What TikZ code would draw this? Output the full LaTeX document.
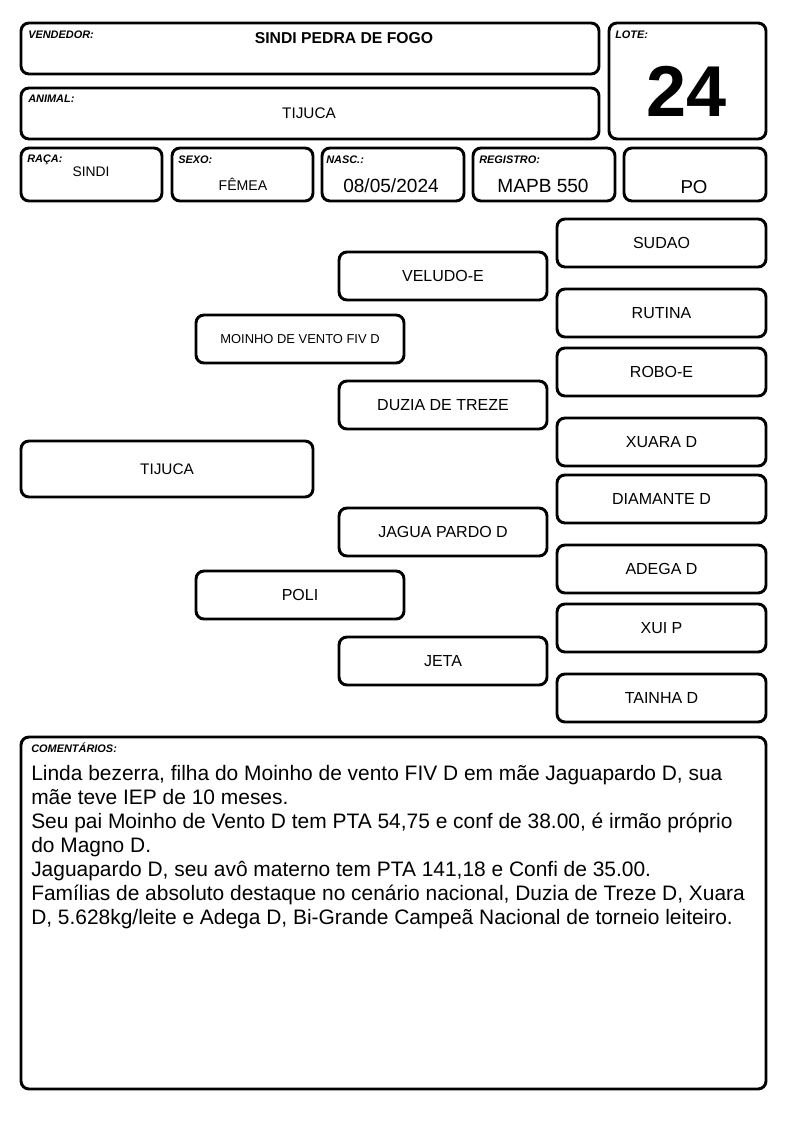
\documentclass[tikz,border=0pt]{standalone}
\usepackage{fontspec}
\setmainfont{Liberation Sans}
\usetikzlibrary{fit}
\begin{document}
\begin{tikzpicture}[x=0.75pt,y=-0.75pt,
 box/.style={draw, line width=2.2pt, rounded corners=6pt, inner sep=0pt},
 lbl/.style={font=\fontsize{8.2}{9}\selectfont\bfseries\itshape, anchor=base west, inner sep=0pt},
 val/.style={inner sep=0pt},
 ped/.style={box, font=\fontsize{12}{14}\selectfont},
]
\useasboundingbox[fill=white] (0,0) rectangle (794,1123);
% header
\node[box, fit={(21,23)(599,74)}] (vend) {};
\node[lbl] (vendl) at (28,39) {VENDEDOR:};
\node[val, font=\fontsize{11.8}{14}\selectfont\bfseries] (vendv) at (344,38) {SINDI PEDRA DE FOGO};

\node[box, fit={(609,23)(766,139)}] (lote) {};
\node[lbl] (lotel) at (615,39) {LOTE:};
\node[val, font=\fontsize{54}{60}\selectfont\bfseries] (lotev) at (687,91) {24};

\node[box, fit={(21,88)(599,139)}] (anim) {};
\node[lbl] (animl) at (28,103) {ANIMAL:};
\node[val, font=\fontsize{11.5}{14}\selectfont] (animv) at (309,113) {TIJUCA};

\node[box, fit={(21,148)(162,201)}] (raca) {};
\node[lbl] (racal) at (27,163) {RAÇA:};
\node[val, font=\fontsize{10.4}{12}\selectfont] (racav) at (91,172) {SINDI};

\node[box, fit={(172,148)(313,201)}] (sexo) {};
\node[lbl] (sexol) at (178,164) {SEXO:};
\node[val, font=\fontsize{10.6}{12}\selectfont] (sexov) at (243,184) {FÊMEA};

\node[box, fit={(322,148)(464,201)}] (nasc) {};
\node[lbl] (nascl) at (326,164) {NASC.:};
\node[val, font=\fontsize{14.3}{16}\selectfont] (nascv) at (391,186) {08/05/2024};

\node[box, fit={(473,148)(615,201)}] (reg) {};
\node[lbl] (regl) at (479,164) {REGISTRO:};
\node[val, font=\fontsize{14.3}{16}\selectfont] (regv) at (543,186) {MAPB 550};

\node[box, fit={(624,148)(766,201)}] (po) {};
\node[val, font=\fontsize{14}{16}\selectfont] (pov) at (694,187) {PO};

% pedigree
\node[ped, fit={(557,219)(766,267)}] (sudao) {};
\node[val, font=\fontsize{12}{14}\selectfont] at (sudao.center) {SUDAO};
\node[ped, fit={(339,252)(547,300)}] (veludo) {};
\node[val, font=\fontsize{12}{14}\selectfont] at (veludo.center) {VELUDO-E};
\node[ped, fit={(557,289)(766,337)}] (rutina) {};
\node[val, font=\fontsize{12}{14}\selectfont] at (rutina.center) {RUTINA};
\node[ped, fit={(196,315)(404,363)}] (moinho) {};
\node[val, font=\fontsize{9.7}{12}\selectfont] at (moinho.center) {MOINHO DE VENTO FIV D};
\node[ped, fit={(557,348)(766,396)}] (robo) {};
\node[val, font=\fontsize{12}{14}\selectfont] at (robo.center) {ROBO-E};
\node[ped, fit={(339,381)(547,429)}] (duzia) {};
\node[val, font=\fontsize{12}{14}\selectfont] at (duzia.center) {DUZIA DE TREZE};
\node[ped, fit={(557,418)(766,466)}] (xuara) {};
\node[val, font=\fontsize{12}{14}\selectfont] at (xuara.center) {XUARA D};
\node[ped, fit={(21,441)(313,497)}] (tijuca) {};
\node[val, font=\fontsize{11.5}{14}\selectfont] at (tijuca.center) {TIJUCA};
\node[ped, fit={(557,475)(766,523)}] (diamante) {};
\node[val, font=\fontsize{12}{14}\selectfont] at (diamante.center) {DIAMANTE D};
\node[ped, fit={(339,508)(547,556)}] (jagua) {};
\node[val, font=\fontsize{12}{14}\selectfont] at (jagua.center) {JAGUA PARDO D};
\node[ped, fit={(557,545)(766,593)}] (adega) {};
\node[val, font=\fontsize{12}{14}\selectfont] at (adega.center) {ADEGA D};
\node[ped, fit={(196,571)(404,619)}] (poli) {};
\node[val, font=\fontsize{12}{14}\selectfont] at (poli.center) {POLI};
\node[ped, fit={(557,604)(766,652)}] (xui) {};
\node[val, font=\fontsize{12}{14}\selectfont] at (xui.center) {XUI P};
\node[ped, fit={(339,637)(547,685)}] (jeta) {};
\node[val, font=\fontsize{12}{14}\selectfont] at (jeta.center) {JETA};
\node[ped, fit={(557,674)(766,722)}] (tainha) {};
\node[val, font=\fontsize{12}{14}\selectfont] at (tainha.center) {TAINHA D};

% comments
\node[box, fit={(21,737)(766,1089)}] (com) {};
\node[lbl] (coml) at (31,752) {COMENTÁRIOS:};
\node[val, anchor=north west, align=left, font=\fontsize{15.7}{18}\selectfont] (comv) at (31,765) {Linda bezerra, filha do Moinho de vento FIV D em mãe Jaguapardo D, sua\\
mãe teve IEP de 10 meses.\\
Seu pai Moinho de Vento D tem PTA 54,75 e conf de 38.00, é irmão próprio\\
do Magno D.\\
Jaguapardo D, seu avô materno tem PTA 141,18 e Confi de 35.00.\\
Famílias de absoluto destaque no cenário nacional, Duzia de Treze D, Xuara\\
D, 5.628kg/leite e Adega D, Bi-Grande Campeã Nacional de torneio leiteiro.};
\end{tikzpicture}
\end{document}
